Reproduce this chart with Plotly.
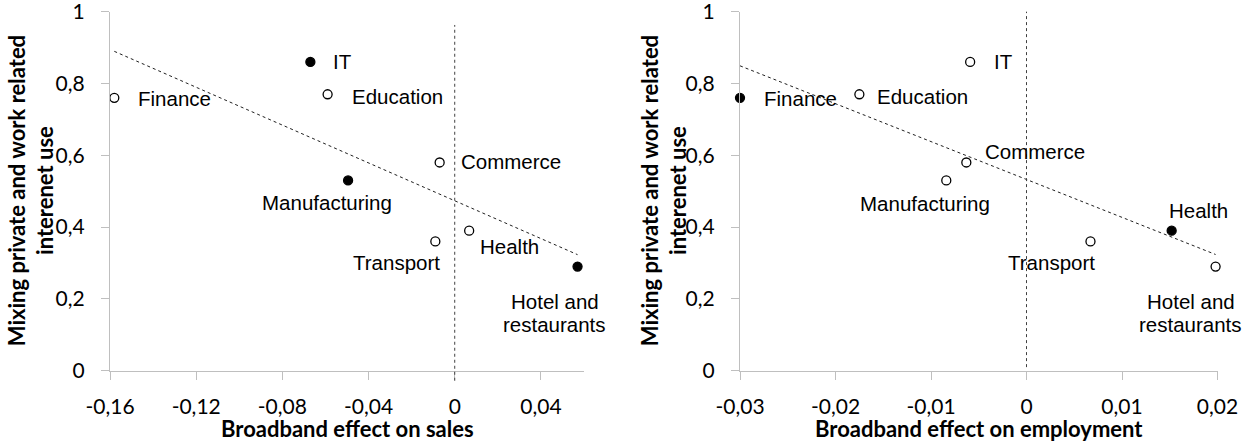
import numpy as np
import plotly.graph_objects as go

# ---------------- data ----------------
sectors = ["Finance", "IT", "Education", "Commerce", "Manufacturing",
           "Transport", "Health", "Hotel and restaurants"]
mixing_use = [0.76, 0.86, 0.77, 0.58, 0.53, 0.36, 0.39, 0.29]
effect_sales = [-0.158, -0.067, -0.059, -0.007, -0.0495, -0.009, 0.0067, 0.057]
effect_employment = [-0.030, -0.0059, -0.0175, -0.0063, -0.0084, 0.0067, 0.0152, 0.0198]
filled_sales = [False, True, False, False, True, False, False, True]
filled_employment = [True, False, False, False, False, False, True, False]

x_ticks_sales = [-0.16, -0.12, -0.08, -0.04, 0, 0.04]
x_ticklabels_sales = ["-0,16", "-0,12", "-0,08", "-0,04", "0", "0,04"]
x_ticks_emp = [-0.03, -0.02, -0.01, 0, 0.01, 0.02]
x_ticklabels_emp = ["-0,03", "-0,02", "-0,01", "0", "0,01", "0,02"]
y_ticks = [0, 0.2, 0.4, 0.6, 0.8, 1]
y_ticklabels = ["0", "0,2", "0,4", "0,6", "0,8", "1"]

y_title = "Mixing private and work related<br>interenet use"
x_title_sales = "Broadband effect on sales"
x_title_emp = "Broadband effect on employment"

# label lines (display)
label_lines = {"Hotel and restaurants": ["Hotel and", "restaurants"]}

# ---------------- styling / layout ----------------
W, H = 1244, 444


def fx(px):                  # page px -> paper fraction (x)
    return px / W


def fy(py):                  # page px -> paper fraction (y)
    return (H - py) / H


px_left = (110, 584)
px_right = (740, 1217.5)
px_top, px_bottom = 11.7, 370.7
ydom = [fy(px_bottom), fy(px_top)]

# label offsets (xanchor, xshift px, yshift px)
offs_sales = {
    "Finance": ("left", 22, -1),
    "IT": ("left", 21, 0),
    "Education": ("left", 22, -2),
    "Commerce": ("left", 19, 1),
    "Manufacturing": ("center", -21, -22),
    "Transport": ("center", -39, -21),
    "Health": ("left", 9, -16),
    "Hotel and restaurants": ("center", -23, -35),
}
offs_emp = {
    "Finance": ("left", 22, -1),
    "IT": ("left", 22, 0),
    "Education": ("left", 16, -2),
    "Commerce": ("left", 17, 11),
    "Manufacturing": ("center", -21, -23),
    "Transport": ("center", -39, -21),
    "Health": ("center", 27, 20),
    "Hotel and restaurants": ("center", -25, -35),
}
LINE_STEP = 23.3

TICK_FONT = dict(family="Lato", size=21, color="#000000")
TITLE_FONT = dict(family="Lato", size=22, color="#000000", weight="bold")
LABEL_FONT = dict(family="Liberation Sans, Arial", size=20.5, color="#000000")
AXIS_COLOR = "#BFBFBF"

fig = go.Figure()


def add_panel(xvals, filled, xaxis, yaxis, offsets):
    # linear trend line (least squares), over the data range
    slope, icpt = np.polyfit(xvals, mixing_use, 1)
    xs = np.array([min(xvals), max(xvals)])
    fig.add_trace(go.Scatter(
        x=xs, y=slope * xs + icpt, mode="lines", xaxis=xaxis, yaxis=yaxis,
        showlegend=False, hoverinfo="skip",
        line=dict(color="#202020", width=1, dash="dot"),
    ))
    # markers
    fig.add_trace(go.Scatter(
        x=xvals, y=mixing_use, mode="markers", xaxis=xaxis, yaxis=yaxis,
        cliponaxis=False, showlegend=False, hoverinfo="text", text=sectors,
        marker=dict(size=9, color=["#000000" if f else "#FFFFFF" for f in filled],
                    line=dict(color="#000000", width=1.3)),
    ))
    # labels
    for name, xv, yv in zip(sectors, xvals, mixing_use):
        anchor, dx, dy = offsets[name]
        lines = label_lines.get(name, [name])
        for i, ln in enumerate(lines):
            fig.add_annotation(
                x=xv, y=yv, xref=xaxis, yref=yaxis, text=ln, showarrow=False,
                xanchor=anchor, yanchor="middle", xshift=dx, yshift=dy - i * LINE_STEP,
                font=LABEL_FONT,
            )


add_panel(effect_sales, filled_sales, "x", "y", offs_sales)
add_panel(effect_employment, filled_employment, "x2", "y2", offs_emp)

axis_common = dict(
    showline=True, linecolor=AXIS_COLOR, linewidth=1.3,
    ticks="outside", ticklen=8, tickcolor=AXIS_COLOR, tickwidth=1.3,
    showgrid=False, zeroline=False, tickfont=TICK_FONT,
    automargin=False, ticklabeloverflow="allow",
)

fig.update_layout(
    template="none",
    width=W, height=H,
    margin=dict(l=0, r=0, t=0, b=0, autoexpand=False),
    paper_bgcolor="#FFFFFF", plot_bgcolor="#FFFFFF",
    xaxis=dict(domain=[fx(px_left[0]), fx(px_left[1])], range=[-0.16, 0.06],
               tickvals=x_ticks_sales, ticktext=x_ticklabels_sales,
               anchor="y", ticklabelstandoff=9, **axis_common),
    yaxis=dict(domain=ydom, range=[0, 1], tickvals=y_ticks, ticktext=y_ticklabels,
               anchor="x", ticklabelstandoff=12, **axis_common),
    xaxis2=dict(domain=[fx(px_right[0]), fx(px_right[1])], range=[-0.03, 0.02],
                tickvals=x_ticks_emp, ticktext=x_ticklabels_emp,
                anchor="y2", ticklabelstandoff=9, **axis_common),
    yaxis2=dict(domain=ydom, range=[0, 1], tickvals=y_ticks, ticktext=y_ticklabels,
                anchor="x2", ticklabelstandoff=12, **axis_common),
)

# vertical reference lines at x = 0
fig.add_shape(type="line", xref="x", yref="y domain", x0=0, x1=0, y0=-0.028, y1=0.963,
              line=dict(color="#404040", width=1, dash="dot"))
fig.add_shape(type="line", xref="x2", yref="y2 domain", x0=0, x1=0, y0=0.01, y1=1.0,
              line=dict(color="#404040", width=1, dash="dot"))

# axis titles
ymid = (ydom[0] + ydom[1]) / 2
fig.add_annotation(text=y_title, xref="paper", yref="paper", x=fx(31), y=ymid,
                   textangle=-90, showarrow=False, xanchor="center", yanchor="middle",
                   font=TITLE_FONT)
fig.add_annotation(text=y_title, xref="paper", yref="paper", x=fx(664), y=ymid,
                   textangle=-90, showarrow=False, xanchor="center", yanchor="middle",
                   font=TITLE_FONT)
fig.add_annotation(text=x_title_sales, xref="x domain", yref="paper", x=0.5, y=fy(428),
                   showarrow=False, xanchor="center", yanchor="middle", font=TITLE_FONT)
fig.add_annotation(text=x_title_emp, xref="x2 domain", yref="paper", x=0.5, y=fy(428),
                   showarrow=False, xanchor="center", yanchor="middle", font=TITLE_FONT)

fig.write_html(
    "out.html",
    config={"displayModeBar": False},
    post_script="document.body.style.margin='0';document.body.style.overflow='hidden';",
)
